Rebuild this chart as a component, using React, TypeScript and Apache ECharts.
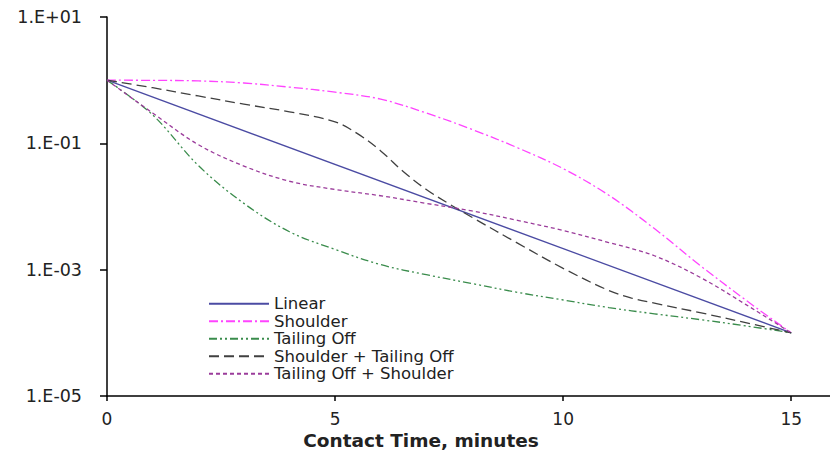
import React, { useEffect, useRef } from "react";
import * as echarts from "echarts";

const seriesNames = [
  "Linear",
  "Shoulder",
  "Tailing Off",
  "Shoulder + Tailing Off",
  "Tailing Off + Shoulder",
];

const xTicks = [0, 5, 10, 15];
const yTickExponents = [-5, -3, -1, 1];

const linearTime = [0, 15];
const linearVals = [1, 0.0001];

const minutes = [0, 1, 2, 3, 4, 5, 6, 7, 8, 9, 10, 11, 12, 13, 14, 15];

const shoulderVals = [
  1, 0.993, 0.973, 0.902, 0.776, 0.646, 0.501, 0.302, 0.166, 0.0851, 0.0398,
  0.0151, 0.00447, 0.00117, 0.000331, 0.0001,
];

const tailingVals = [
  1, 0.282, 0.0447, 0.0112, 0.00398, 0.00209, 0.0012, 0.000832, 0.000603,
  0.000437, 0.000331, 0.000251, 0.0002, 0.000162, 0.000129, 0.0001,
];

const shoulderTailTime = [
  0, 1, 2, 3, 4, 5, 5.5, 6, 6.5, 7, 7.5, 8, 9, 10, 11, 11.5, 12, 13, 14, 15,
];
const shoulderTailVals = [
  1, 0.759, 0.562, 0.417, 0.316, 0.219, 0.141, 0.0759, 0.0355, 0.0186, 0.011,
  0.00676, 0.00263, 0.00105, 0.000468, 0.000355, 0.000295, 0.000209, 0.000145,
  0.0001,
];

const tailShoulderVals = [
  1, 0.302, 0.0955, 0.0437, 0.0251, 0.0186, 0.0148, 0.0112, 0.00851, 0.00603,
  0.00417, 0.00269, 0.00166, 0.000759, 0.000282, 0.0001,
];

const zip = (xs: number[], ys: number[]) => xs.map((x, i) => [x, ys[i]]);

const FONT = "DejaVu Sans";

export default function App() {
  const ref = useRef<HTMLDivElement>(null);

  useEffect(() => {
    if (!ref.current) return;
    const chart = echarts.init(ref.current, null, { renderer: "svg" });

    const mk = (
      name: string,
      data: number[][],
      color: string,
      type: any,
      width = 1.3
    ) => ({
      name,
      type: "line",
      data,
      symbol: "none",
      smooth: 0.35,
      lineStyle: { color, width, type },
      itemStyle: { color },
    });

    chart.setOption({
      animation: false,
      backgroundColor: "#ffffff",
      grid: { left: 107, top: 17, bottom: 54, right: 0, containLabel: false },
      xAxis: {
        type: "value",
        min: 0,
        max: 15.85,
        interval: 5,
        splitLine: { show: false },
        axisLine: { lineStyle: { color: "#000", width: 1.5 } },
        axisTick: { show: true, length: 5, lineStyle: { color: "#000", width: 1.5 } },
        axisLabel: {
          fontFamily: FONT,
          fontSize: 17,
          color: "#222",
          margin: 14,
          showMaxLabel: false,
          formatter: (v: number) => (xTicks.includes(v) ? String(v) : ""),
        },
      },
      yAxis: {
        type: "log",
        logBase: 10,
        min: Math.pow(10, yTickExponents[0]),
        max: Math.pow(10, yTickExponents[yTickExponents.length - 1]),
        interval: 2,
        splitLine: { show: false },
        axisLine: { show: true, lineStyle: { color: "#000", width: 1.5 } },
        axisTick: { show: true, length: 7, lineStyle: { color: "#000", width: 1.5 } },
        axisLabel: {
          fontFamily: FONT,
          fontSize: 17.5,
          color: "#222",
          margin: 25,
          formatter: (v: number) => {
            const e = Math.round(Math.log10(v));
            const s = String(Math.abs(e)).padStart(2, "0");
            return `1.E${e >= 0 ? "+" : "-"}${s}`;
          },
        },
      },
      legend: {
        orient: "vertical",
        left: 203,
        top: 290,
        itemWidth: 60,
        itemHeight: 1,
        itemGap: 0,
        itemStyle: { opacity: 0 },
        textStyle: { fontFamily: FONT, fontSize: 16.5, lineHeight: 17.5, color: "#222" },
        data: seriesNames,
      },
      graphic: [
        {
          type: "text",
          x: 421,
          y: 440,
          style: {
            text: "Contact Time, minutes",
            font: `bold 18.5px "${FONT}"`,
            fill: "#222",
            textAlign: "center",
            textVerticalAlign: "middle",
          },
        },
      ],
      series: [
        mk(seriesNames[0], zip(linearTime, linearVals), "#4b4ba3", "solid"),
        mk(seriesNames[1], zip(minutes, shoulderVals), "#ff44ff", [9, 3, 2, 3]),
        mk(seriesNames[2], zip(minutes, tailingVals), "#3a8c4c", [8, 3, 2, 3, 2, 3]),
        mk(seriesNames[3], zip(shoulderTailTime, shoulderTailVals), "#404040", [10, 5]),
        mk(seriesNames[4], zip(minutes, tailShoulderVals), "#9b3c9b", [4, 3]),
      ],
    });

    return () => chart.dispose();
  }, []);

  return (
    <div
      ref={ref}
      style={{ position: "absolute", left: 0, top: 0, width: 830, height: 450 }}
    />
  );
}
